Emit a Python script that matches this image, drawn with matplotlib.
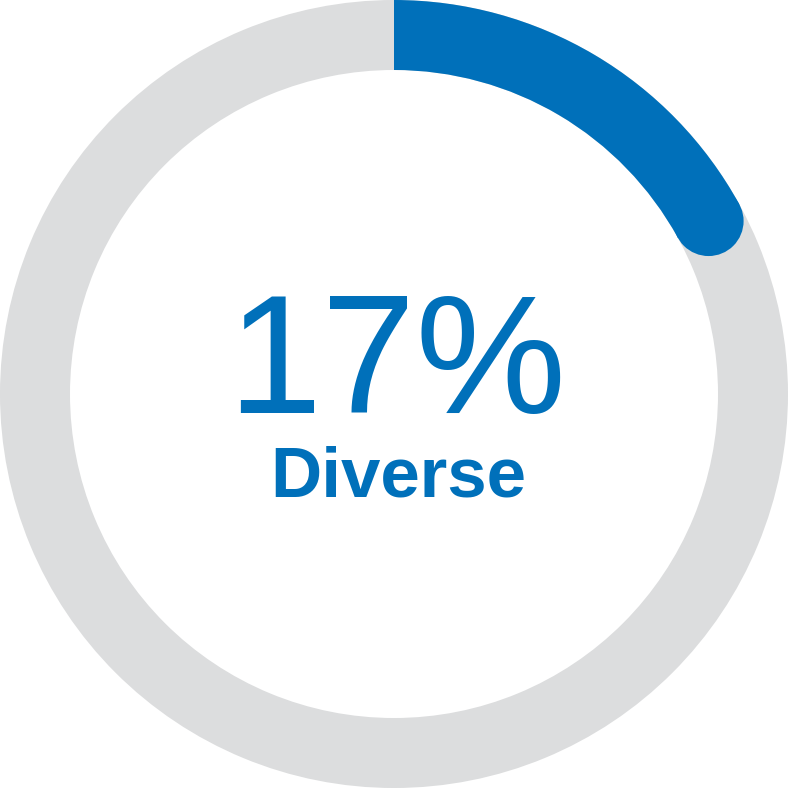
import numpy as np
import matplotlib.pyplot as plt
from matplotlib.patches import Circle

share = 17
label = 'Diverse'
blue = '#0070BA'
grey = '#DCDDDE'

fig = plt.figure(figsize=(7.88, 7.89), dpi=100)
ax = fig.add_axes([0, 0, 1, 1])

ring = 70 / 394
# grey track
ax.pie([100], radius=1, colors=[grey], startangle=90,
       wedgeprops=dict(width=ring, linewidth=0))
# blue share, clockwise from 12 o'clock
ax.pie([share, 100 - share], radius=1, colors=[blue, 'none'], startangle=90,
       counterclock=False, wedgeprops=dict(width=ring, linewidth=0))

# round cap at the end of the blue arc
ang = np.deg2rad(90 - share / 100 * 360)
rm = 1 - ring / 2
ax.add_patch(Circle((rm * np.cos(ang), rm * np.sin(ang)), ring / 2,
                    color=blue, lw=0))

ax.text(0.008, -0.048, f'{share}%', ha='center', va='baseline',
        fontsize=122, color=blue, family='Liberation Sans')
ax.text(0.01, -0.261, label, ha='center', va='baseline',
        fontsize=51, fontweight='bold', color=blue, family='Liberation Sans')

ax.set_xlim(-1, 1)
ax.set_ylim(-395 / 394, 1)
ax.set_aspect('auto')
ax.axis('off')
fig.savefig('out.png', dpi=100)
